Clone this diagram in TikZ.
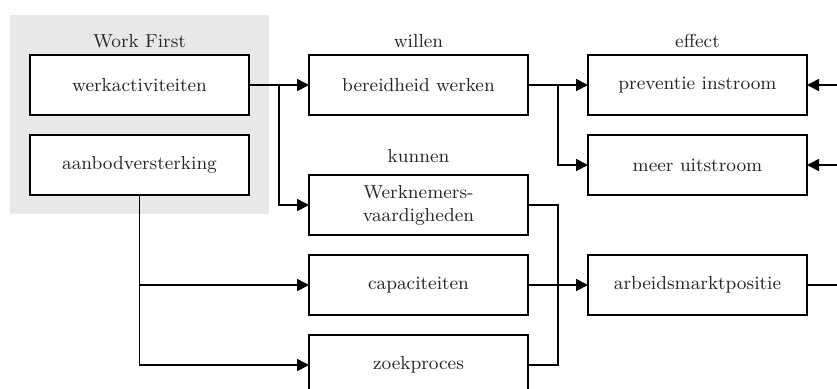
\documentclass[tikz,border=0pt]{standalone}
\usetikzlibrary{positioning, arrows.meta, backgrounds, calc}

\begin{document}
\begin{tikzpicture}
  [x=1pt, y=1pt,
   font=\fontsize{9.4}{11.5}\selectfont,
   text=black!85,
   box/.style={draw=black, fill=white, line width=0.9pt, outer sep=0pt, inner sep=2pt,
     minimum width=109.5pt, minimum height=30pt, align=center},
   heading/.style={inner sep=0pt, anchor=base},
   link/.style={line width=0.9pt},
   arrow/.style={link, -{Triangle[length=6pt,width=6pt]}},
   node distance=10pt and 30pt]
  \useasboundingbox (0,0) rectangle (418.5,-194);
  \clip (0,0) rectangle (418.5,-194);

  \node (werk) [box] at (69.75,-42.5) {werkactiviteiten};
  \node (aanbod) [box, below=of werk] {aanbodversterking};
  \node (bereid) [box, right=of werk] {bereidheid werken};
  \node (prev) [box, right=of bereid] {preventie instroom};
  \node (meer) [box, below=of prev] {meer uitstroom};
  \node (vaard) [box, below=30pt of bereid] {Werknemers-\\vaardigheden};
  \node (capac) [box, below=of vaard] {capaciteiten};
  \node (zoek) [box, below=of capac] {zoekproces};
  \node (arbeid) [box, right=of capac] {arbeidsmarktpositie};

  \node (lblwork) [above=4pt of werk, heading] {Work First};
  \node (lblwillen) [above=4pt of bereid, heading] {willen};
  \node (lbleffect) [above=4pt of prev, heading] {effect};
  \node (lblkunnen) [above=6.5pt of vaard, heading] {kunnen};

  \begin{scope}[on background layer]
    \fill [gray!18] ($(werk.north west)+(-10,20)$) rectangle ($(aanbod.south east)+(10,-9.5)$);
  \end{scope}

  \draw [arrow] (werk.east) -- (bereid.west);
  \draw [arrow] (werk.east) -- ++(15,0) |- (vaard.west);
  \draw [arrow] (bereid.east) -- (prev.west);
  \draw [arrow] (bereid.east) -- ++(15,0) |- (meer.west);
  \foreach \target in {capac, zoek}{
    \draw [arrow] (aanbod.south) |- (\target.west);
  };
  \draw [link] (vaard.east) -- ++(15,0) |- (zoek.east);
  \draw [arrow] (capac.east) -- (arbeid.west);

  \coordinate (edge) at (418.5,0);
  \coordinate (outarbeid) at (arbeid.east -| edge);
  \draw [link] (arbeid.east) -- (outarbeid);
  \foreach \target in {prev, meer}{
    \coordinate (in\target) at (\target.east -| edge);
    \draw [arrow] (in\target) -- (\target.east);
  };
\end{tikzpicture}
\end{document}
